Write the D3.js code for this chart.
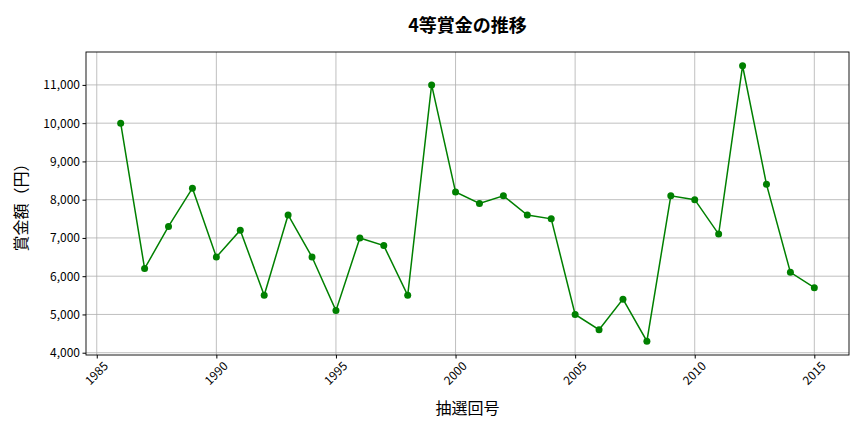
<!DOCTYPE html>
<html>
<head>
<meta charset="utf-8">
<script src="https://cdn.jsdelivr.net/npm/d3@7"></script>
<style>
  body { margin: 0; background: #fff; }
  text { font-family: "Noto Sans CJK JP", "Noto Sans", sans-serif; }
</style>
</head>
<body>
<div id="chart"></div>
<script>
// data
var years = [1986, 1987, 1988, 1989, 1990, 1991, 1992, 1993, 1994, 1995,
             1996, 1997, 1998, 1999, 2000, 2001, 2002, 2003, 2004, 2005,
             2006, 2007, 2008, 2009, 2010, 2011, 2012, 2013, 2014, 2015];
var prizes = [10000, 6200, 7300, 8300, 6500, 7200, 5500, 7600, 6500, 5100,
              7000, 6800, 5500, 11000, 8200, 7900, 8100, 7600, 7500, 5000,
              4600, 5400, 4300, 8100, 8000, 7100, 11500, 8400, 6100, 5700];
var xTicks = [1985, 1990, 1995, 2000, 2005, 2010, 2015];
var yTicks = [4000, 5000, 6000, 7000, 8000, 9000, 10000, 11000];

var svgWidth = 864, svgHeight = 432;
var margin = {top: 52, right: 15, bottom: 77, left: 86};
var chartWidth = svgWidth - margin.left - margin.right;
var chartHeight = svgHeight - margin.top - margin.bottom;

var svg = d3.select("#chart").append("svg")
  .attr("width", svgWidth).attr("height", svgHeight);

var g = svg.append("g")
  .attr("transform", `translate(${margin.left},${margin.top})`);

// matplotlib-like 5% padding
var xMin = d3.min(years), xMax = d3.max(years);
var xPad = (xMax - xMin) * 0.05;
var yMin = d3.min(prizes), yMax = d3.max(prizes);
var yPad = (yMax - yMin) * 0.05;

var xScale = d3.scaleLinear().domain([xMin - xPad, xMax + xPad]).range([0, chartWidth]);
var yScale = d3.scaleLinear().domain([yMin - yPad, yMax + yPad]).range([chartHeight, 0]);

// grid
g.append("g").selectAll("line").data(xTicks).enter().append("line")
  .attr("x1", d => xScale(d)).attr("x2", d => xScale(d))
  .attr("y1", 0).attr("y2", chartHeight)
  .attr("stroke", "#b0b0b0").attr("stroke-width", 0.8);
g.append("g").selectAll("line").data(yTicks).enter().append("line")
  .attr("x1", 0).attr("x2", chartWidth)
  .attr("y1", d => yScale(d)).attr("y2", d => yScale(d))
  .attr("stroke", "#b0b0b0").attr("stroke-width", 0.8);

// axes
var xAxis = d3.axisBottom(xScale).tickValues(xTicks).tickFormat(d3.format("d")).tickSize(3.5).tickSizeOuter(0);
var yAxis = d3.axisLeft(yScale).tickValues(yTicks).tickFormat(d3.format(",")).tickSize(3.5).tickSizeOuter(0);

var gx = g.append("g").attr("transform", `translate(0,${chartHeight})`).call(xAxis);
gx.select(".domain").remove();
gx.selectAll("text")
  .attr("font-size", 12).attr("fill", "#000")
  .attr("text-anchor", "middle")
  .attr("dy", null).attr("y", 19).attr("x", 0)
  .attr("transform", "rotate(-45, 0, 19)")
  .attr("dominant-baseline", "middle");

var gy = g.append("g").call(yAxis);
gy.select(".domain").remove();
gy.selectAll("text").attr("font-size", 12).attr("fill", "#000").attr("x", -6);

// frame
g.append("rect").attr("width", chartWidth).attr("height", chartHeight)
  .attr("fill", "none").attr("stroke", "#000").attr("stroke-width", 0.9);

// line + markers
var line = d3.line().x((d, i) => xScale(years[i])).y(d => yScale(d));
g.append("path").datum(prizes)
  .attr("d", line).attr("fill", "none")
  .attr("stroke", "green").attr("stroke-width", 1.5);
g.selectAll("circle.pt").data(prizes).enter().append("circle")
  .attr("class", "pt")
  .attr("cx", (d, i) => xScale(years[i])).attr("cy", d => yScale(d))
  .attr("r", 3.5).attr("fill", "green");

// titles
svg.append("text").attr("x", margin.left + chartWidth / 2).attr("y", 32)
  .attr("text-anchor", "middle").attr("font-size", 18).attr("font-weight", "bold")
  .text("4等賞金の推移");
svg.append("text").attr("x", margin.left + chartWidth / 2).attr("y", 414)
  .attr("text-anchor", "middle").attr("font-size", 16)
  .text("抽選回号");
svg.append("text")
  .attr("transform", `translate(27,${margin.top + chartHeight / 2}) rotate(-90)`)
  .attr("text-anchor", "middle").attr("font-size", 16)
  .text("賞金額（円）");
</script>
</body>
</html>
